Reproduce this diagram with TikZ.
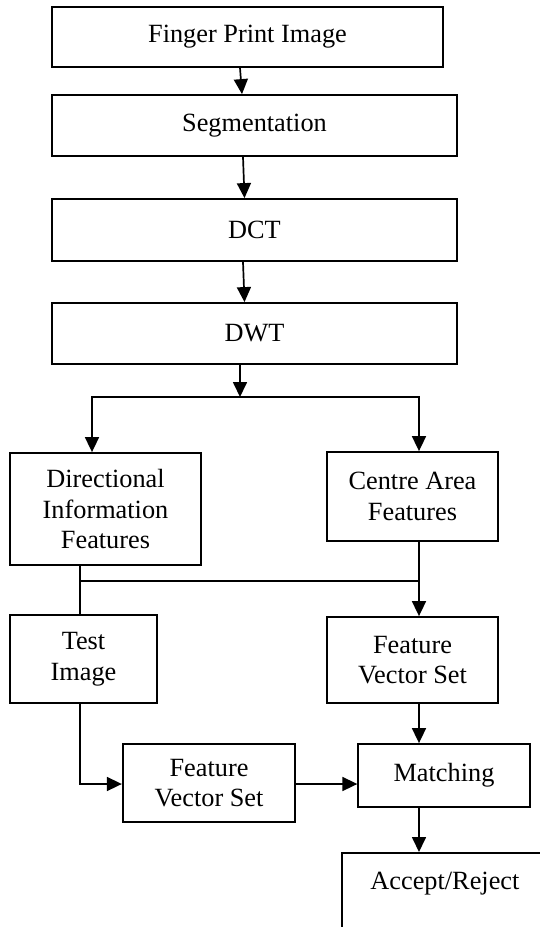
\documentclass[tikz,border=0pt]{standalone}
\usepackage{fontspec}
\setmainfont{Liberation Serif}
\usetikzlibrary{arrows.meta}

\begin{document}
\begin{tikzpicture}[x=1pt,y=-1pt,
  stage/.style={draw, line width=1.8pt, inner sep=0pt, align=center,
    font=\fontsize{26.3}{30.5}\selectfont},
  arr/.style={line width=1.7pt, -{Triangle[width=14pt,length=15pt]}},
  link/.style={line width=1.7pt}]
\useasboundingbox (0,0) rectangle (540,927);

% processing chain
\node[stage, minimum width=391pt, minimum height=60pt] (fp)  at (247.5,37)  {Finger Print Image};
\node[stage, minimum width=405pt, minimum height=61pt] (seg) at (254.5,125.5) {Segmentation};
\node[stage, minimum width=405pt, minimum height=62pt] (dct) at (254.5,230) {DCT};
\node[stage, minimum width=405pt, minimum height=61pt] (dwt) at (254.5,333.5) {DWT};

% feature extraction
\node[stage, minimum width=191pt, minimum height=112pt] (dif) at (105.5,509) {Directional\\Information\\Features};
\node[stage, minimum width=171pt, minimum height=89pt]  (caf) at (412.5,496.5) {Centre Area\\Features};

% test path and feature sets
\node[stage, minimum width=147pt, minimum height=88pt]  (test) at (83.5,659) {Test\\Image};
\node[stage, minimum width=171pt, minimum height=86pt]  (fvr)  at (412.5,660) {Feature\\Vector Set};
\node[stage, minimum width=172.5pt, minimum height=78pt] (fvl) at (209,783) {Feature\\Vector Set};
\node[stage, minimum width=171.5pt, minimum height=63pt] (match) at (444,775.5) {Matching};

% decision box, running past the page edge
\node[stage, anchor=north west, minimum width=206pt, text height=37pt, text depth=100pt]
  (acc) at (341,852) {Accept/Reject};

% split points
\coordinate (split) at (240,397);
\coordinate (j) at (80,581);
\coordinate (k) at (419,581);

% connectors
\draw[arr] ([xshift=-7.5pt]fp.south) -- ([xshift=-12.5pt]seg.north);
\draw[arr] ([xshift=-11.5pt]seg.south) -- ([xshift=-10pt]dct.north);
\draw[arr] ([xshift=-11.5pt]dct.south) -- ([xshift=-10pt]dwt.north);
\draw[arr] ([xshift=-14.5pt]dwt.south) -- (split);
\draw[arr] (split) -| ([xshift=-13.5pt]dif.north);
\draw[arr] (split) -| ([xshift=6.5pt]caf.north);

\draw[link] ([xshift=-25.5pt]dif.south) -- ([xshift=-3.5pt]test.north);
\draw[link] (j) -- (k);
\draw[arr] ([xshift=6.5pt]caf.south) -- ([xshift=6.5pt]fvr.north);

\draw[arr] ([xshift=-3.5pt]test.south) |- ([yshift=-1pt]fvl.west);
\draw[arr] ([yshift=-1pt]fvl.east) -- ([yshift=-1pt]fvl.east -| match.west);
\draw[arr] ([xshift=6.5pt]fvr.south) -- ([xshift=6.5pt]fvr.south |- match.north);
\draw[arr] ([xshift=-25pt]match.south) -- ([xshift=-25pt]match.south |- acc.north);
\end{tikzpicture}
\end{document}
